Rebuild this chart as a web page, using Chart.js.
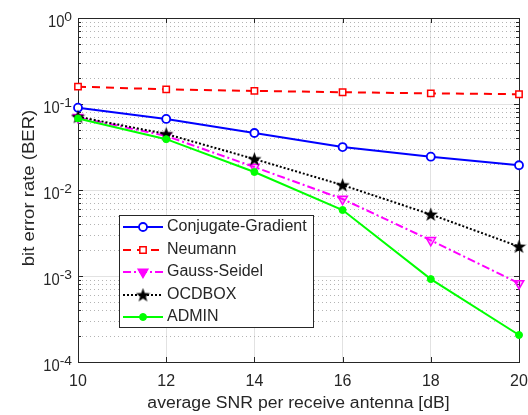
<!DOCTYPE html>
<html lang="en">
<head>
  <meta charset="UTF-8">
  <title>BER vs SNR</title>
  <script src="https://cdn.jsdelivr.net/npm/chart.js"></script>
  <style>
    html, body { margin: 0; padding: 0; background: #fff; }
    #wrap { position: relative; width: 528px; height: 415px; }
  </style>
</head>
<body>
  <div id="wrap"><canvas id="berChart" width="528" height="415"></canvas></div>

  <script>
    // data
    const snr = [10, 12, 14, 16, 18, 20];
    const cgBer = [0.0906, 0.067, 0.046, 0.0316, 0.0244, 0.0194];
    const neumannBer = [0.159, 0.148, 0.142, 0.137, 0.133, 0.130];
    const gaussSeidelBer = [0.070, 0.0425, 0.0185, 0.00785, 0.0026, 0.00082];
    const ocdboxBer = [0.071, 0.0448, 0.0229, 0.0114, 0.0052, 0.0022];
    const adminBer = [0.068, 0.039, 0.0162, 0.00585, 0.00092, 0.000206];

    const xTicks = [10, 12, 14, 16, 18, 20];
    const yExponents = [-4, -3, -2, -1, 0];

    const FONT = '"Liberation Sans", Arial, sans-serif';
    const TXT = '#262626';

    function makeStar(size, color) {
      const c = document.createElement('canvas');
      c.width = size; c.height = size;
      const g = c.getContext('2d');
      const cx = size / 2, cy = size / 2 + 0.5, R = size / 2, r = R * 0.4;
      g.beginPath();
      for (let i = 0; i < 10; i++) {
        const rad = i % 2 ? r : R;
        const a = -Math.PI / 2 + i * Math.PI / 5;
        g.lineTo(cx + rad * Math.cos(a), cy + rad * Math.sin(a));
      }
      g.closePath();
      g.fillStyle = color;
      g.fill();
      return c;
    }
    const starImg = makeStar(15, '#000');

    const pts = arr => snr.map((x, i) => ({ x: x, y: arr[i] }));

    const datasets = [
      { label: 'Conjugate-Gradient', data: pts(cgBer), borderColor: '#0000ff', backgroundColor: '#ffffff',
        borderWidth: 2, borderDash: [], pointStyle: 'circle', pointRadius: 4, pointBorderWidth: 1.8, order: 5 },
      { label: 'Neumann', data: pts(neumannBer), borderColor: '#ff0000', backgroundColor: '#ffffff',
        borderWidth: 2, borderDash: [8, 6], pointStyle: 'rect', pointRadius: 4.5, pointBorderWidth: 1.5, order: 4 },
      { label: 'Gauss-Seidel', data: pts(gaussSeidelBer), borderColor: '#ff00ff', backgroundColor: 'rgba(255,0,255,0.25)',
        borderWidth: 2, borderDash: [8, 3, 2, 3], pointStyle: 'triangle', pointRotation: 180, pointRadius: 5.5, pointBorderWidth: 1.5, order: 3 },
      { label: 'OCDBOX', data: pts(ocdboxBer), borderColor: '#000000', backgroundColor: '#000000',
        borderWidth: 2, borderDash: [2, 2], pointStyle: starImg, pointRadius: 7, order: 2 },
      { label: 'ADMIN', data: pts(adminBer), borderColor: '#00ff00', backgroundColor: '#00ff00',
        borderWidth: 2, borderDash: [], pointStyle: 'circle', pointRadius: 3.5, pointBorderWidth: 1, order: 1 }
    ];
    datasets.forEach(d => {
      d.pointBackgroundColor = d.backgroundColor;
      d.pointBorderColor = d.borderColor;
      d.tension = 0;
      d.clip = false;
      d.fill = false;
    });

    function isMajor(v) {
      const m = v / Math.pow(10, Math.floor(Math.log10(v) + 1e-9));
      return Math.abs(m - 1) < 1e-6;
    }

    // text with a bit of horizontal stretch, the reference font is wide
    function drawText(ctx, text, x, y, size, sx, align, baseline) {
      ctx.save();
      ctx.font = size + 'px ' + FONT;
      ctx.textAlign = align;
      ctx.textBaseline = baseline || 'alphabetic';
      ctx.translate(x, y);
      ctx.scale(sx, 1);
      ctx.fillText(text, 0, 0);
      const w = ctx.measureText(text).width * sx;
      ctx.restore();
      return w;
    }

    const matlabAxes = {
      id: 'matlabAxes',
      beforeDatasetsDraw(chart) {
        const ctx = chart.ctx;
        const a = chart.chartArea;
        const ys = chart.scales.y, xs = chart.scales.x;
        ctx.save();
        // dotted minor grid
        ctx.strokeStyle = '#b4b4b4';
        ctx.lineWidth = 1;
        ctx.setLineDash([1, 3]);
        ys.ticks.forEach(t => {
          if (isMajor(t.value)) return;
          const y = Math.round(ys.getPixelForValue(t.value)) + 0.5;
          ctx.beginPath(); ctx.moveTo(a.left, y); ctx.lineTo(a.right, y); ctx.stroke();
        });
        ctx.setLineDash([]);
        // box
        ctx.strokeStyle = '#262626';
        ctx.strokeRect(Math.round(a.left) + 0.5, Math.round(a.top) + 0.5,
          Math.round(a.right - a.left), Math.round(a.bottom - a.top));
        // inner ticks
        ctx.beginPath();
        ys.ticks.forEach(t => {
          const y = Math.round(ys.getPixelForValue(t.value)) + 0.5;
          const len = isMajor(t.value) ? 5 : 3;
          ctx.moveTo(a.left, y); ctx.lineTo(a.left + len, y);
          ctx.moveTo(a.right, y); ctx.lineTo(a.right - len, y);
        });
        xs.ticks.forEach(t => {
          const x = Math.round(xs.getPixelForValue(t.value)) + 0.5;
          ctx.moveTo(x, a.bottom); ctx.lineTo(x, a.bottom - 5);
          ctx.moveTo(x, a.top); ctx.lineTo(x, a.top + 5);
        });
        ctx.stroke();
        ctx.restore();
      },
      afterDraw(chart) {
        const ctx = chart.ctx;
        const a = chart.chartArea;
        const ys = chart.scales.y, xs = chart.scales.x;
        ctx.save();
        ctx.fillStyle = TXT;
        // x tick labels
        xTicks.forEach(v => {
          drawText(ctx, String(v), xs.getPixelForValue(v), a.bottom + 20, 16, 1.0, 'center', 'middle');
        });
        // y tick labels 10^n
        yExponents.forEach(e => {
          const y = ys.getPixelForValue(Math.pow(10, e));
          const exp = e === 0 ? '0' : '-' + Math.abs(e);
          const w = drawText(ctx, exp, a.left - 6, y + 3, 12, 1.15, 'right');
          drawText(ctx, '10', a.left - 6 - w, y + 9, 16, 0.92, 'right');
        });
        // axis titles
        drawText(ctx, 'average SNR per receive antenna [dB]', (a.left + a.right) / 2, 404, 16, 1.1, 'center', 'middle');
        ctx.save();
        ctx.translate(29, 188);
        ctx.rotate(-Math.PI / 2);
        drawText(ctx, 'bit error rate (BER)', 0, 0, 17, 1.09, 'center', 'middle');
        ctx.restore();
        ctx.restore();

        // legend box
        ctx.save();
        const bx = 119.5, by = 215.5, bw = 194, bh = 112;
        ctx.fillStyle = '#fff';
        ctx.fillRect(bx, by, bw, bh);
        ctx.strokeStyle = '#262626';
        ctx.lineWidth = 1;
        ctx.strokeRect(bx, by, bw, bh);
        const rowY = [227, 250, 272, 295, 317];
        chart.data.datasets.forEach((d, i) => {
          const y = rowY[i];
          ctx.strokeStyle = d.borderColor;
          ctx.lineWidth = d.borderWidth;
          ctx.setLineDash(d.borderDash);
          ctx.beginPath(); ctx.moveTo(123, y); ctx.lineTo(163, y); ctx.stroke();
          ctx.setLineDash([]);
          drawMarker(ctx, d, 143, y);
          ctx.fillStyle = TXT;
          drawText(ctx, d.label, 167, y + 4, 16, 1.0, 'left');
        });
        ctx.restore();
      }
    };

    function drawMarker(ctx, d, x, y) {
      const r = d.pointRadius;
      ctx.save();
      ctx.lineWidth = d.pointBorderWidth || 1;
      ctx.strokeStyle = d.borderColor;
      ctx.fillStyle = d.backgroundColor;
      if (d.pointStyle instanceof HTMLCanvasElement) {
        const s = d.pointStyle;
        ctx.drawImage(s, x - s.width / 2, y - s.height / 2);
      } else if (d.pointStyle === 'circle') {
        ctx.beginPath(); ctx.arc(x, y, r, 0, Math.PI * 2); ctx.fill(); ctx.stroke();
      } else if (d.pointStyle === 'rect') {
        const s = r * Math.SQRT1_2;
        ctx.beginPath(); ctx.rect(x - s, y - s, 2 * s, 2 * s); ctx.fill(); ctx.stroke();
      } else if (d.pointStyle === 'triangle') {
        ctx.beginPath();
        for (let k = 0; k < 3; k++) {
          const ang = Math.PI / 2 + k * 2 * Math.PI / 3;
          ctx.lineTo(x + r * Math.cos(ang), y + r * Math.sin(ang));
        }
        ctx.closePath(); ctx.fillStyle = d.borderColor; ctx.fill(); ctx.stroke();
      }
      ctx.restore();
    }

    new Chart(document.getElementById('berChart'), {
      type: 'line',
      data: { datasets: datasets },
      options: {
        responsive: false,
        animation: false,
        devicePixelRatio: 1,
        layout: { padding: { left: 0, right: 9, top: 18, bottom: 0 } },
        plugins: { legend: { display: false }, tooltip: { enabled: false } },
        scales: {
          x: {
            type: 'linear',
            min: 10,
            max: 20,
            afterBuildTicks: s => { s.ticks = xTicks.map(v => ({ value: v })); },
            afterFit: s => { s.height = 53; },
            grid: { color: '#e2e2e2', drawTicks: false },
            border: { display: false },
            ticks: { display: false },
            title: { display: false }
          },
          y: {
            type: 'logarithmic',
            min: 1e-4,
            max: 1,
            afterBuildTicks: s => {
              const t = [];
              yExponents.forEach(e => {
                const base = Math.pow(10, e);
                for (let m = 1; m <= (e === 0 ? 1 : 9); m++) t.push({ value: m * base });
              });
              s.ticks = t;
            },
            afterFit: s => { s.width = 78; },
            grid: {
              color: c => (c.tick && isMajor(c.tick.value)) ? '#e2e2e2' : 'rgba(0,0,0,0)',
              drawTicks: false
            },
            border: { display: false },
            ticks: { display: false }
          }
        }
      },
      plugins: [matlabAxes]
    });
  </script>
</body>
</html>
